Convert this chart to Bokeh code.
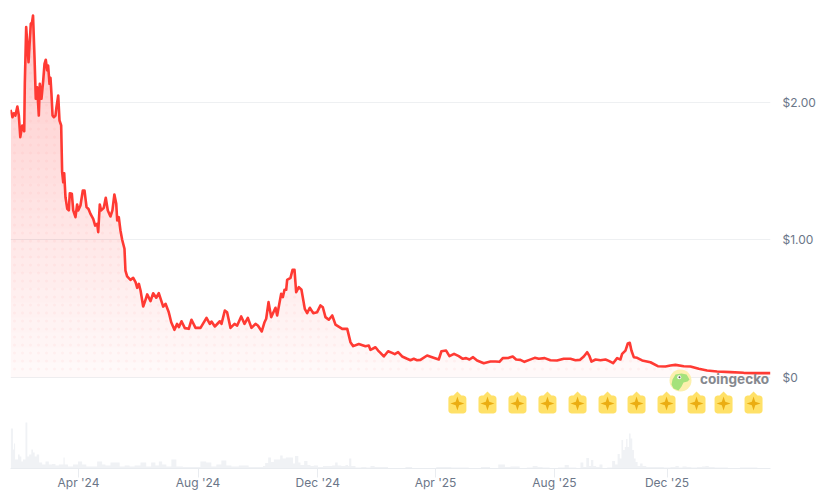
import numpy as np
from bokeh.plotting import figure
from bokeh.models import Range1d, FixedTicker
from bokeh.core.properties import value
from bokeh.embed import file_html
from bokeh.resources import INLINE

price_day = [0,2,3.4,5,7,8.5,10,12,14,14.6,16,18.4,20.7,22,23,24.5,25.8,27.2,28.9,29.9,31.6,33.4,34.7,36,37.4,38.4,39.8,40.8,41.8,42.9,44.2,45.9,46.9,48.7,50,51.7,52.7,53.8,54.8,56.1,57.9,59.5,60.5,62.6,64,66.3,68,69.1,71.4,73.8,75.5,77.6,79.6,81.6,84.4,86.4,88.5,89.5,91.1,92.5,95.2,97.2,99.3,102,104,106,107.9,108.9,110.5,112.2,114,116.3,117.3,119,122.4,125.2,127.6,129.3,131,132.7,135.4,137,139.5,142.9,145.6,148.7,151.3,155.8,158.2,161.5,164,167.3,170,171.8,174.5,177.9,181.9,184.7,188.8,193.9,200,203.4,205.1,208.5,213.6,215.3,218.7,221,224.5,228.6,231.3,235.4,238.8,242.2,245.9,250,252.4,256.4,259.2,260.9,263.3,266,270.4,272.1,276.2,277.9,279.6,281.3,282.3,285.7,287.8,289.8,291.5,294.2,296.9,300.3,302.7,305.4,308.9,312.9,316.3,318.7,321.4,324.8,328.3,331.6,338.5,343.6,346.9,349.7,355.4,362.2,365.6,367.3,372.4,375.1,377.5,380.9,385.3,389.4,392.1,395.5,399.6,404.7,408.1,411.5,414.9,418.3,425.1,430.2,437,439.7,444.5,447.9,452.6,457.4,461.5,464.9,468.3,472,476.1,482.9,489.7,494.8,498.9,502.3,508.4,512.5,515.9,520.3,524.4,529.5,534.9,539,545.1,550.9,557.7,564.5,571.4,576.5,580.9,585,588.4,590.8,592.8,597,602,607.1,610.5,614.9,619,622.4,624.1,627.5,629.9,631.9,633.6,636,639.4,644.5,653,660.5,668.3,673.4,678.5,687,693.8,702.3,710.8,721,734.6,748.2,761.8,775.4]
price_usd = [1.947,1.893,1.922,1.905,1.971,1.905,1.748,1.833,1.791,2.138,2.548,2.293,2.572,2.584,2.633,2.329,2.027,2.111,1.905,2.136,2.027,2.16,2.281,2.311,2.233,2.269,2.136,2.18,2.063,1.905,1.893,1.905,1.966,2.051,1.869,1.833,1.493,1.42,1.485,1.311,1.226,1.215,1.34,1.336,1.215,1.166,1.258,1.215,1.251,1.36,1.36,1.239,1.226,1.19,1.154,1.105,1.118,1.057,1.258,1.215,1.234,1.307,1.215,1.171,1.215,1.331,1.263,1.142,1.166,1.069,1.0,0.936,0.778,0.735,0.71,0.725,0.693,0.652,0.681,0.633,0.516,0.548,0.604,0.555,0.613,0.58,0.613,0.516,0.536,0.475,0.402,0.347,0.39,0.366,0.409,0.359,0.354,0.42,0.361,0.361,0.434,0.39,0.407,0.371,0.409,0.39,0.487,0.475,0.361,0.39,0.378,0.444,0.39,0.434,0.361,0.39,0.378,0.335,0.402,0.427,0.548,0.439,0.507,0.451,0.609,0.584,0.638,0.638,0.71,0.725,0.783,0.783,0.62,0.657,0.638,0.499,0.468,0.507,0.468,0.475,0.524,0.511,0.439,0.42,0.451,0.385,0.354,0.354,0.257,0.228,0.244,0.228,0.233,0.201,0.22,0.196,0.179,0.153,0.191,0.179,0.17,0.184,0.153,0.136,0.126,0.136,0.126,0.128,0.16,0.148,0.131,0.191,0.196,0.155,0.172,0.155,0.136,0.141,0.131,0.148,0.124,0.104,0.116,0.116,0.114,0.141,0.143,0.153,0.131,0.128,0.114,0.128,0.143,0.136,0.141,0.126,0.124,0.136,0.136,0.126,0.128,0.153,0.184,0.155,0.116,0.131,0.126,0.131,0.121,0.104,0.141,0.131,0.172,0.196,0.247,0.252,0.196,0.148,0.143,0.124,0.111,0.082,0.08,0.087,0.092,0.082,0.08,0.063,0.051,0.044,0.039,0.034,0.032,0.032]

vol_day = [0.3,2,3,4,5.4,6.8,8.5,10.2,11.9,13.6,15,15.6,16.7,17.7,20.4,22.1,23.8,25.5,27.9,30.6,34,37.4,40.8,44.2,47.6,51,53.7,54.4,56.1,61.2,66.3,71.4,74.8,79.9,85,91.8,95.2,98.6,105.4,108.8,114,119,124,129.3,136,141,146,149.7,153,156.5,161.6,166.7,171.8,180,190.5,197,202.4,207.5,212.6,217.7,222.8,228,238,248,256.8,258.5,261.2,264.6,267,270.4,273.8,276.5,278.9,283,287.4,289.1,291.5,293.2,294.2,297.6,301.7,304.4,307.8,311.2,316.3,321.4,326.5,329.9,332.6,335,340.1,343.5,345.2,345.9,346.9,348.6,355.4,360.5,365.6,369,374.1,380.9,389.4,397.9,408.1,411.5,418.3,428.5,440.4,445.5,454,460.8,474.4,485.6,493.1,502.3,506.7,513.5,515.3,523.8,529.9,535.7,539.8,545.9,554.4,562.9,568,571.4,574.8,579.9,583.3,585.7,589.4,591.1,593.5,595.9,599.3,602.7,605.4,612.2,615.6,618.3,620.7,622.7,624.1,626.1,627.5,628.9,630.2,631.9,633.6,635.3,637,638.7,641.1,643.8,646.2,651.3,658.1,663.2,670,676.8,680.2,683.6,687.7,692.1,697.2,704,707.4,710.8,714.2,722.7,727.8,736.3,752.3,772,775.5]
vol_musd = [20,20,9.5,12.5,4.5,4.5,7,6,3.5,4.5,4.5,23,23,6,7,9.5,8,6,7,3,2,3.5,2,2.2,1.5,2,2,5.5,2,1,2,3.5,2,1,1,3.5,2,1.5,3,3,1,1.5,1,1.5,3,1,3,1.5,3.5,2,1,4.5,1,0.8,0.8,3.5,3,1,2,4,1.5,1,1.5,0.8,0.8,1.2,2.8,5.5,3.3,4.5,4.5,6.5,5,5.5,5.5,2.5,6.2,6.2,3,1.7,3.7,1.7,1.2,1.5,0.8,1.2,1.2,1.5,3,1.5,1.2,1.7,1.2,5,5,1.2,0.5,0.8,0.5,1.2,0.7,0.8,0.3,0.2,0.8,0.3,0.1,0.1,0.8,0.7,0.5,0.5,0.3,0.8,0.2,2,0.8,1,1,0.3,0.5,1.2,0.7,0.5,0.2,0.5,1.7,0.5,0.5,0.2,3,0.8,5.3,1.3,4.2,1.3,0.7,2,0.2,0.5,3.7,2,7.2,5,14.2,9.2,10.8,14.7,10.8,17.5,15,9.2,5,3.3,1.3,2.5,1.3,0.8,0.8,0.7,0.5,0.7,1.3,0.5,1,0.8,0.5,0.8,1,1.3,0.7,0.5,0.5,0.2,0.5,0.2,0.1]

event_day = [456,486.7,517.3,547.9,578.6,609.2,638.8,669.4,700,727.6,758.2]
tick_day = [69.4,191.4,313.5,433.7,555.1,669.9]
tick_label = ["Apr '24","Aug '24","Dec '24","Apr '25","Aug '25","Dec '25"]
price_tick = [0,1,2]
price_tick_label = ["$0","$1.00","$2.00"]

RED = "#ff3a33"
PX_X = 0.98      # pixels per day
PX_Y = 137.5     # pixels per dollar

p = figure(frame_width=760, frame_height=460, output_backend="svg", toolbar_location=None,
           x_range=Range1d(0, 775.5), y_range=Range1d(-0.6618, 2.6836),
           y_axis_location="right", min_border_left=10, min_border_top=8,
           min_border_right=44, min_border_bottom=14, background_fill_color="white",
           border_fill_color="white", outline_line_color=None)
p.extra_y_ranges = {"vol": Range1d(0, 230)}

p.xgrid.visible = False
p.ygrid.grid_line_color = "#eef0f2"
p.ygrid.grid_line_width = 1
p.yaxis.ticker = FixedTicker(ticks=price_tick)
p.yaxis.major_label_overrides = dict(zip(price_tick, price_tick_label))
p.yaxis.axis_line_color = None
p.yaxis.major_tick_line_color = None
p.yaxis.minor_tick_line_color = None
p.yaxis.major_tick_in = 0
p.yaxis.major_tick_out = 0
p.yaxis.major_label_standoff = 12
p.yaxis.major_label_text_font = "Inter"
p.yaxis.major_label_text_font_size = "12px"
p.yaxis.major_label_text_color = "#6b7688"

p.xaxis.ticker = FixedTicker(ticks=tick_day)
p.xaxis.major_label_overrides = dict(zip(tick_day, tick_label))
p.xaxis.axis_line_color = "#e9ecf0"
p.xaxis.major_tick_line_color = "#e9ecf0"
p.xaxis.major_tick_in = 0
p.xaxis.major_tick_out = 9
p.xaxis.minor_tick_line_color = None
p.xaxis.major_label_standoff = -3
p.xaxis.major_label_text_font = "Inter"
p.xaxis.major_label_text_font_size = "12px"
p.xaxis.major_label_text_color = "#6b7688"

# volume
p.varea_step(x=vol_day, y1=[0] * len(vol_day), y2=vol_musd, step_mode="center",
             fill_color="#f0f2f5", y_range_name="vol")

# gradient under the price line: stacked translucent layers
days = np.array(price_day)
usd = np.array(price_usd)
p.varea(x=days, y1=np.zeros_like(usd), y2=usd, fill_color="#ff2020", fill_alpha=0.027)
for lev in np.linspace(0.11, 2.6, 24):
    p.varea(x=days, y1=np.full_like(usd, lev), y2=np.maximum(usd, lev),
            fill_color="#ff2020", fill_alpha=0.009)

# dot texture inside the area
gx, gy = np.meshgrid((4 + 8 * np.arange(95)) / PX_X, (8.5 + 8 * np.arange(46)) / PX_Y)
inside = gy < np.interp(gx, days, usd) - 2 / PX_Y
p.scatter(gx[inside], gy[inside], size=3, marker="circle", fill_color="#ff2020",
          fill_alpha=0.035, line_color=None)

p.line(days, usd, line_color=RED, line_width=2.6, line_join="round")

# event badges
def badge(cx, cy):
    w, top, bot, r = 9, -8, 10, 3
    pts = [(-4, top), (0, top - 4), (4, top)]
    for (ax, ay, a0) in [(w - r, top + r, -90), (w - r, bot - r, 0), (-w + r, bot - r, 90), (-w + r, top + r, 180)]:
        for t in np.radians(np.arange(a0, a0 + 91, 30)):
            pts.append((ax + r * np.cos(t), ay + r * np.sin(t)))
    return [cx + q[0] / PX_X for q in pts], [cy - q[1] / PX_Y for q in pts]

def star(cx, cy):
    R, q = 7, 1.7
    pts = [(0, -R), (q, -q), (R, 0), (q, q), (0, R), (-q, q), (-R, 0), (-q, -q)]
    return [cx + a / PX_X for a, b in pts], [cy - b / PX_Y for a, b in pts]

row = -26 / PX_Y
bs = [badge(d, row) for d in event_day]
ss = [star(d, row) for d in event_day]
p.patches([b[0] for b in bs], [b[1] for b in bs], fill_color="#ffe168", line_color=None)
p.patches([s[0] for s in ss], [s[1] for s in ss], fill_color="#ebad12", line_color=None)

# watermark
lx, ly = 670 / PX_X, -3 / PX_Y
p.scatter([lx], [ly], size=22, marker="circle", fill_color="#fcf0ad", line_color=None)
bird = [(-8, -1), (-5, -6), (1, -7), (6, -6), (9, -1), (7, 1), (3, 2), (1, 6), (-2, 10), (-7, 8), (-9, 4)]
p.patch([lx + a / PX_X for a, b in bird], [ly - b / PX_Y for a, b in bird],
        fill_color="#a5e27b", line_color=None)
p.scatter([lx - 1.3 / PX_X], [ly + 3.3 / PX_Y], size=4, marker="circle", fill_color="white", line_color=None)
p.scatter([lx - 1 / PX_X], [ly + 3.3 / PX_Y], size=2, marker="circle", fill_color="#555555", line_color=None)
p.text([689.5 / PX_X], [-1 / PX_Y], text=["coingecko"], text_font=value("Inter"), text_font_style="bold",
       text_font_size="13.6px", text_color="#85888e", text_align="left", text_baseline="middle")

open("out.html", "w").write(file_html(p, INLINE))
